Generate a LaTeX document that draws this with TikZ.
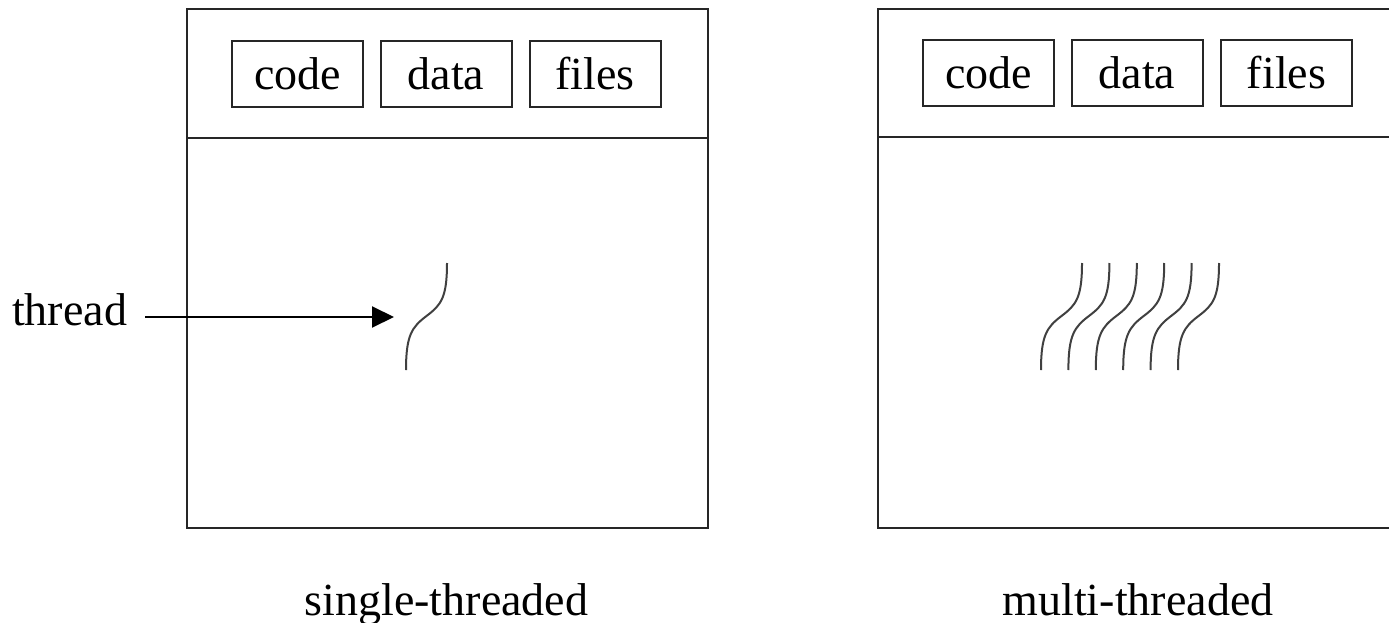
\documentclass[tikz,border=0pt]{standalone}
\usepackage{fontspec}
\setmainfont{Liberation Serif}
\usetikzlibrary{arrows.meta}
\begin{document}
\begin{tikzpicture}[x=1pt,y=-1pt,
  every node/.style={font=\fontsize{46}{50}\selectfont},
  frame/.style={draw=black!85,line width=2pt,inner sep=0pt},
  segbox/.style={draw=black!85,line width=2pt,inner sep=0pt,minimum width=131pt,minimum height=66pt,text height=35pt,text depth=3pt},
  thr/.style={draw=black!75,line width=2pt},
  lbl/.style={anchor=base,inner sep=0pt}]
\useasboundingbox (0,0) rectangle (1389,623);
\clip (0,0) rectangle (1389,623);
% left process
\node[frame,minimum width=521pt,minimum height=519pt] (L) at (447.5,268.5) {};
\draw[black!85,line width=2pt] (L.west |- 0,138) coordinate (Ld1) -- (L.east |- 0,138) coordinate (Ld2);
\node[segbox] (Lc) at (297.5,74) {code};
\node[segbox] (Ld) at (446,74) {data};
\node[segbox] (Lf) at (595,74) {files};
% right process
\node[frame,minimum width=521pt,minimum height=519pt] (R) at (1138.5,268.5) {};
\draw[black!85,line width=2pt] (R.west |- 0,137) coordinate (Rd1) -- (R.east |- 0,137) coordinate (Rd2);
\node[segbox] (Rc) at (988.5,73) {code};
\node[segbox] (Rd) at (1137,73) {data};
\node[segbox] (Rf) at (1286.5,73) {files};
% threads
\tikzset{thread/.pic={\draw[thr] (0,0) .. controls (0,35) and (-6,42) .. (-20.5,53) .. controls (-35,64) and (-41,72) .. (-41,107);}}
\pic at (447,263) {thread};
\foreach \i in {0,...,5} {\pic at ({1082+27.4*\i},263) {thread};}
% labels
\node[anchor=base west,inner sep=0pt] (T) at (12,325) {thread};
\coordinate (Ttip) at (394,317);
\draw[black,line width=2pt,-{Triangle[length=22pt,width=21pt]}] (145,317) coordinate (Tstart) -- (Ttip);
\node[lbl] (sl) at (446.5,615) {single-threaded};
\node[lbl] (ml) at (1138,615) {multi-threaded};
\end{tikzpicture}
\end{document}
